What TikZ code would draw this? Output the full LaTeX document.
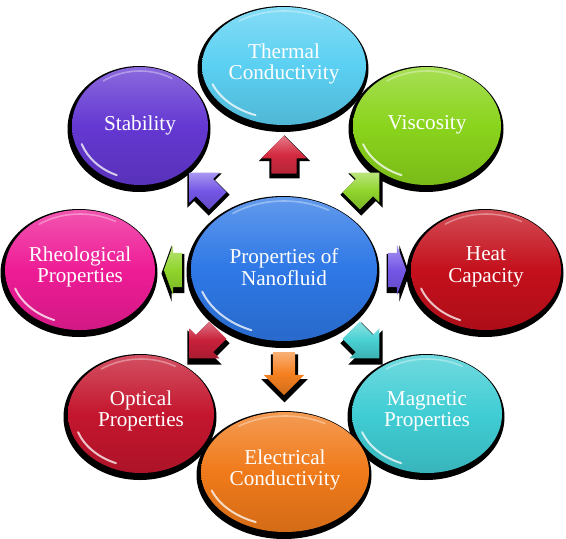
\documentclass[tikz,border=0pt]{standalone}
\usepackage{fontspec}
\setmainfont{Liberation Serif}
\usetikzlibrary{shapes.geometric,shapes.arrows,calc}

\definecolor{cThermal}{HTML}{5BD0F2}
\definecolor{cStab}{HTML}{6438D2}
\definecolor{cVisc}{HTML}{8AD41C}
\definecolor{cRheo}{HTML}{EE1C96}
\definecolor{cCenter}{HTML}{2E78E6}
\definecolor{cHeat}{HTML}{C4101C}
\definecolor{cOpt}{HTML}{C4162E}
\definecolor{cMag}{HTML}{40CDD4}
\definecolor{cElec}{HTML}{F07A1A}
\definecolor{aRed}{HTML}{D42A40}
\definecolor{aPurple}{HTML}{7456E6}
\definecolor{aGreen}{HTML}{90D42C}
\definecolor{aCrimson}{HTML}{C8203A}
\definecolor{aCyan}{HTML}{48D0D2}
\definecolor{aOrange}{HTML}{F58020}

\tikzset{
  shd/.style={ellipse, inner sep=0pt, draw=none, fill=black},
  bubble/.style={ellipse, inner sep=0pt, draw=none,
    top color=#1!75!white, bottom color=#1!88!black, middle color=#1},
  hl/.style={white, line width=2pt, opacity=.75, line cap=round},
  hltop/.style={white, line width=1.6pt, opacity=.35, line cap=round},
  lbl/.style={text=white, align=center, inner sep=0pt,
    font=\fontsize{21.2}{21.5}\selectfont},
  ashd/.style={single arrow, inner xsep=0pt, draw=none, fill=black},
  blockarrow/.style={single arrow, inner xsep=0pt, draw=none,
    top color=#1!62!white, bottom color=#1!85!black, middle color=#1},
}

% name, x, y, rx, ry, color
\newcommand\bub[6]{%
  \node[shd, minimum width={2*#4pt+7pt}, minimum height={2*#5pt+8pt}] at (#2-1,#3+3) {};
  \node[bubble=#6, minimum width={2*#4pt}, minimum height={2*#5pt}] (#1) at (#2,#3) {};
  \draw[hl] ([shift={(200:{#4pt-6pt} and {#5pt-6pt})}]#1.center)
    arc[start angle=200, end angle=248, x radius={#4pt-6pt}, y radius={#5pt-6pt}];
  \draw[hltop] ([shift={(60:{#4pt-4pt} and {#5pt-4pt})}]#1.center)
    arc[start angle=60, end angle=125, x radius={#4pt-4pt}, y radius={#5pt-4pt}];
}
% name, x, y, rotation, length, half shaft, head extend, color, tip angle
\newcommand\arw[9]{%
  \node[ashd, rotate=#4, minimum height={#5pt+5pt}, inner ysep={#6pt+2.5pt},
    single arrow head extend={#7pt+0.5pt}, single arrow tip angle=#9] at (#2+0.5,#3+3.5) {};
  \node[blockarrow=#8, rotate=#4, minimum height={#5pt}, inner ysep={#6pt},
    single arrow head extend={#7pt}, single arrow tip angle=#9] (#1) at (#2,#3) {};
}

\begin{document}
\begin{tikzpicture}[x=1pt,y=-1pt]
\useasboundingbox[fill=white] (0,0) rectangle (566,539);

\bub{stab}{140}{126}{68}{59}{cStab}
\bub{visc}{427}{126}{74}{59}{cVisc}
\bub{rheo}{80}{270}{75}{60}{cRheo}
\bub{heat}{486}{270}{75}{60}{cHeat}
\bub{opt}{141}{414}{73}{59}{cOpt}
\bub{mag}{427}{414}{75}{59}{cMag}
\bub{therm}{284}{66}{82}{59}{cThermal}
\bub{elec}{285}{472}{84}{60}{cElec}
\bub{cen}{284}{269}{93}{72}{cCenter}

\node[lbl] (tStab) at (140,125) {Stability};
\node[lbl] (tVisc) at (427,125) {Viscosity};
\node[lbl] (tRheo) at (80,267) {Rheological\\Properties};
\node[lbl] (tHeat) at (486,267) {Heat\\Capacity};
\node[lbl] (tOpt) at (141,411) {Optical\\Properties};
\node[lbl] (tMag) at (427,411) {Magnetic\\Properties};
\node[lbl] (tTherm) at (284,64) {Thermal\\Conductivity};
\node[lbl] (tElec) at (285,470) {Electrical\\Conductivity};
\node[lbl] (tCen) at (284,267) {Properties of\\Nanofluid};

\arw{aN}{284}{161}{90}{38}{12.5}{10}{aRed}{90}
\arw{aNW}{208}{191}{135}{40}{12}{9}{aPurple}{90}
\arw{aNE}{361}{191}{45}{40}{12}{9}{aGreen}{90}
\arw{aW}{176}{270}{180}{18}{17}{8}{aGreen}{140}
\arw{aE}{394}{270}{0}{18}{17}{8}{aPurple}{140}
\arw{aSW}{208}{340}{225}{40}{12}{9}{aCrimson}{90}
\arw{aSE}{361}{340}{-45}{40}{12}{9}{aCyan}{90}
\arw{aS}{284}{368}{-90}{43}{11}{9}{aOrange}{90}
\end{tikzpicture}
\end{document}
